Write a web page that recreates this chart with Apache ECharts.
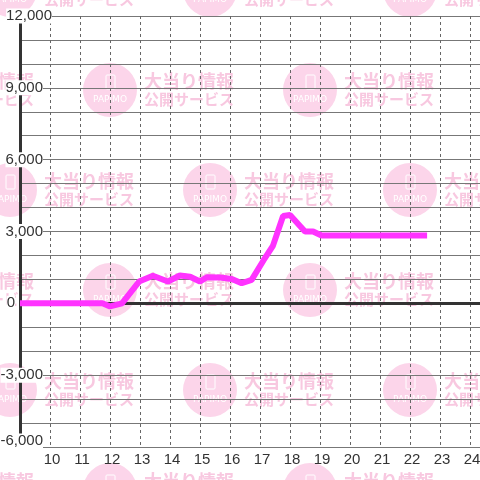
<!DOCTYPE html>
<html>
<head>
<meta charset="utf-8">
<script src="https://cdn.jsdelivr.net/npm/echarts@6/dist/echarts.min.js"></script>
<style>
  html, body { margin: 0; padding: 0; background: #fff; }
  #main { width: 480px; height: 480px; }
</style>
</head>
<body>
<div id="main"></div>
<script>
// hours of the day (x) and balance (y)
var hours = [9.0, 11.75, 12.0, 12.4, 12.45, 12.97, 13.43, 13.93, 14.33, 14.67, 15.0, 15.23,
  15.67, 16.06, 16.39, 16.72, 17.12, 17.43, 17.77, 18.0, 18.5, 18.77, 19.05, 22.57];
var balance = [0, 0, -130, 0, 20, 910, 1150, 910, 1160, 1110, 910, 1090,
  1080, 1020, 840, 980, 1800, 2400, 3650, 3690, 3000, 3000, 2830, 2830];
var xTicks = [10, 11, 12, 13, 14, 15, 16, 17, 18, 19, 20, 21, 22, 23, 24];
var yLabels = [-6000, -3000, 0, 3000, 6000, 9000, 12000];

var chart = echarts.init(document.getElementById("main"));

// watermark tiles
var marks = [];
var rows = [-10, 90, 190, 290, 390, 490];
rows.forEach(function (cy, i) {
  var cols = i % 2 === 0 ? [10, 210, 410] : [-90, 110, 310];
  cols.forEach(function (cx) {
    marks.push({ type: "circle", z: -10, silent: true, shape: { cx: cx, cy: cy, r: 27 }, style: { fill: "#fcd5ea" } });
    marks.push({ type: "rect", z: -9, silent: true, shape: { x: cx - 4, y: cy - 15, width: 9, height: 14, r: 1 },
      style: { fill: null, stroke: "#fff", lineWidth: 1 } });
    marks.push({ type: "text", z: -9, silent: true, x: cx, y: cy + 10,
      style: { text: "PAPIMO", fill: "#fff", font: "9px 'DejaVu Sans'", align: "center", verticalAlign: "middle" } });
    marks.push({ type: "text", z: -9, silent: true, x: cx + 34, y: cy - 9,
      style: { text: "大当り情報", fill: "#f8c8e0", font: "bold 18px 'Noto Sans CJK JP'", align: "left", verticalAlign: "middle" } });
    marks.push({ type: "text", z: -9, silent: true, x: cx + 34, y: cy + 9,
      style: { text: "公開サービス", fill: "#f8c8e0", font: "bold 15px 'Noto Sans CJK JP'", align: "left", verticalAlign: "middle" } });
  });
});

var option = {
  animation: false,
  graphic: marks,
  grid: { left: 20, right: 0, top: 16, bottom: 33, containLabel: false, outerBoundsMode: "none" },
  xAxis: {
    type: "value",
    min: 9,
    max: 9 + 460 / 30,
    interval: 1,
    axisLine: { show: false },
    axisTick: { show: false },
    axisLabel: {
      margin: 5,
      fontSize: 15,
      fontFamily: "Liberation Sans",
      color: "#333",
      padding: [0, 0, 0, 4],
      formatter: function (v) {
        return xTicks.indexOf(v) >= 0 ? String(v) : "";
      },
    },
    splitLine: { show: true, lineStyle: { color: "#666", width: 1, type: [3, 3] } },
  },
  yAxis: {
    type: "value",
    min: -6000,
    max: 12000,
    interval: 1000,
    axisLine: { show: true, lineStyle: { color: "#333", width: 3 } },
    axisTick: { show: false },
    axisLabel: {
      margin: -32,
      formatter: function (v) {
        if (yLabels.indexOf(v) < 0) return "";
        var s = v.toLocaleString("en-US");
        if (v === 12000) return "{b|" + s + "}";
        if (v === 0) return "{b|0}{g| }";
        if (v === -6000) return "{u|" + s + "}{p| }";
        return "{b|" + s + "}{p| }";
      },
      rich: {
        b: { fontSize: 15, fontFamily: "Liberation Sans", color: "#333", backgroundColor: "#fff", lineHeight: 17 },
        u: { fontSize: 15, fontFamily: "Liberation Sans", color: "#333", backgroundColor: "#fff", lineHeight: 17, padding: [0, 0, 12, 0] },
        p: { width: 9 },
        g: { width: 37 },
      },
    },
    splitLine: { show: true, lineStyle: { color: "#777", width: 1 } },
  },
  series: [
    {
      type: "line",
      data: hours.map(function (h, i) { return [h, balance[i]]; }),
      symbol: "none",
      z: 3,
      lineStyle: { color: "#ff33ff", width: 6 },
      markLine: {
        z: 1,
        silent: true,
        symbol: "none",
        label: { show: false },
        lineStyle: { color: "#333", width: 3, type: "solid" },
        data: [{ yAxis: 0 }],
      },
    },
  ],
};
chart.setOption(option);
</script>
</body>
</html>
